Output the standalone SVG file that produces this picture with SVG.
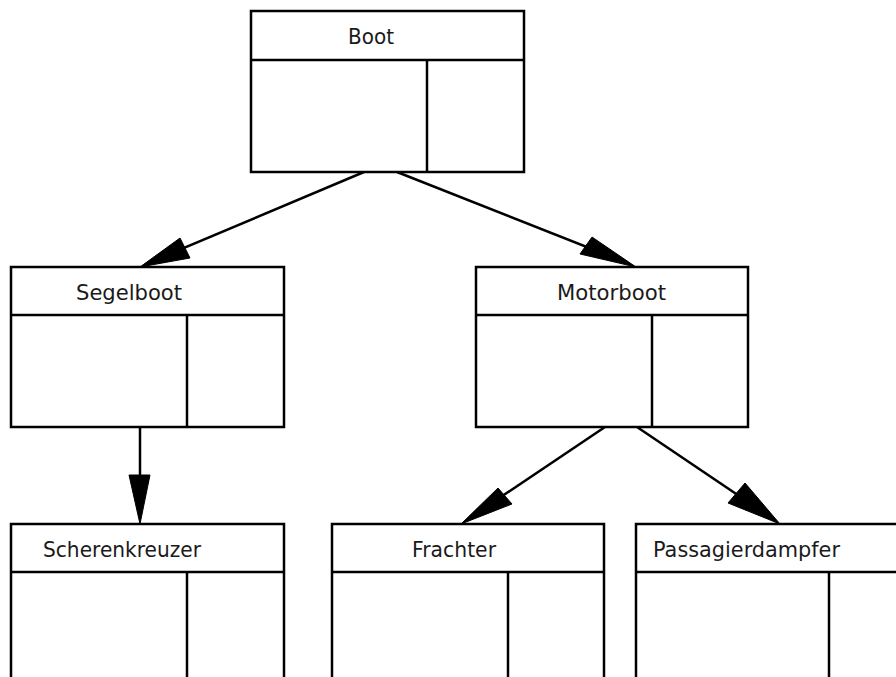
<svg xmlns="http://www.w3.org/2000/svg" width="896" height="677" viewBox="0 0 896 677">
<style>
.box{fill:#fff;stroke:#000;stroke-width:2.5}
.ln{stroke:#000;stroke-width:2.5;fill:none}
.lbl{font-family:"DejaVu Sans","Liberation Sans",sans-serif;font-size:20.5px;fill:#1a1a1a}
.head{fill:#000;stroke:#000;stroke-width:1}
</style>
<rect width="896" height="677" fill="#fff"/>
<g id="connectors">
<line class="ln" x1="364" y1="172" x2="160" y2="258"/>
<polygon class="head" points="140,267 180,238 190,258"/>
<line class="ln" x1="397" y1="172" x2="612" y2="257"/>
<polygon class="head" points="636,267 592,237 580,254"/>
<line class="ln" x1="140" y1="427" x2="140" y2="478"/>
<polygon class="head" points="140,524 129,475 150,475"/>
<line class="ln" x1="605" y1="427" x2="480" y2="511"/>
<polygon class="head" points="461,524 498,488 512,504"/>
<line class="ln" x1="637" y1="427" x2="760" y2="510"/>
<polygon class="head" points="780,524 745,483 728,503"/>
</g>
<g id="boot">
<rect class="box" x="251" y="11" width="273" height="161"/>
<line class="ln" x1="251" y1="60" x2="524" y2="60"/>
<line class="ln" x1="427" y1="60" x2="427" y2="172"/>
<text class="lbl" x="348" y="44" textLength="46" lengthAdjust="spacingAndGlyphs">Boot</text>
</g>
<g id="segelboot">
<rect class="box" x="11" y="267" width="273" height="160"/>
<line class="ln" x1="11" y1="315" x2="284" y2="315"/>
<line class="ln" x1="187" y1="315" x2="187" y2="427"/>
<text class="lbl" x="76" y="300" textLength="106" lengthAdjust="spacingAndGlyphs">Segelboot</text>
</g>
<g id="motorboot">
<rect class="box" x="476" y="267" width="272" height="160"/>
<line class="ln" x1="476" y1="315" x2="748" y2="315"/>
<line class="ln" x1="652" y1="315" x2="652" y2="427"/>
<text class="lbl" x="557" y="300" textLength="109" lengthAdjust="spacingAndGlyphs">Motorboot</text>
</g>
<g id="scherenkreuzer">
<rect class="box" x="11" y="524" width="273" height="170"/>
<line class="ln" x1="11" y1="572" x2="284" y2="572"/>
<line class="ln" x1="187" y1="572" x2="187" y2="694"/>
<text class="lbl" x="43" y="557" textLength="158" lengthAdjust="spacingAndGlyphs">Scherenkreuzer</text>
</g>
<g id="frachter">
<rect class="box" x="332" y="524" width="272" height="170"/>
<line class="ln" x1="332" y1="572" x2="604" y2="572"/>
<line class="ln" x1="508" y1="572" x2="508" y2="694"/>
<text class="lbl" x="412" y="557" textLength="84" lengthAdjust="spacingAndGlyphs">Frachter</text>
</g>
<g id="passagierdampfer">
<rect class="box" x="636" y="524" width="273" height="170"/>
<line class="ln" x1="636" y1="572" x2="909" y2="572"/>
<line class="ln" x1="829" y1="572" x2="829" y2="694"/>
<text class="lbl" x="653" y="557" textLength="187" lengthAdjust="spacingAndGlyphs">Passagierdampfer</text>
</g>
</svg>
